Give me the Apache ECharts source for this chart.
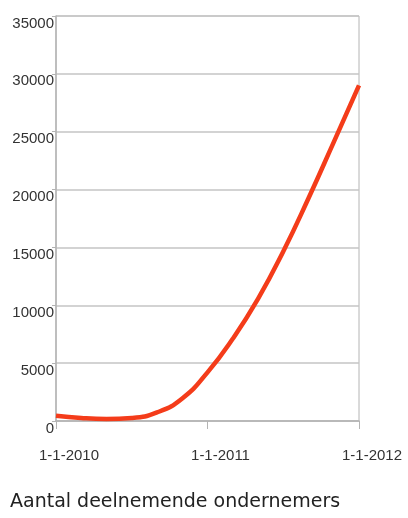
<!DOCTYPE html>
<html>
<head>
<meta charset="utf-8">
<script src="https://cdn.jsdelivr.net/npm/echarts@6/dist/echarts.min.js"></script>
<style>
  html, body { margin: 0; padding: 0; background: #ffffff; }
  #chart { width: 408px; height: 518px; }
</style>
</head>
<body>
<div id="chart"></div>
<script>
// Months since 1-1-2010 and the number of participating entrepreneurs at that time
const months = [0, 2, 4, 6, 8, 10, 12, 14, 16, 18, 20, 22, 24];
const participants = [450, 260, 180, 260, 740, 1950, 4200, 7100, 10550, 14650, 19250, 24100, 29000];
const yTicks = [0, 5000, 10000, 15000, 20000, 25000, 30000, 35000];
const startYear = 2010;
const caption = 'Aantal deelnemende ondernemers';

const chart = echarts.init(document.getElementById('chart'), null, { renderer: 'canvas' });

chart.setOption({
  backgroundColor: '#ffffff',
  animation: false,
  title: {
    text: caption,
    left: 5,
    top: 488,
    textStyle: { fontFamily: 'DejaVu Sans', fontSize: 19, fontWeight: 'normal', color: '#222' }
  },
  grid: { left: 56, right: 49, top: 16, bottom: 97, show: true, borderColor: '#b4b4b4', borderWidth: 1 },
  xAxis: {
    type: 'value',
    min: 0,
    max: 24,
    interval: 12,
    axisLine: { show: true, lineStyle: { color: '#b4b4b4', width: 1.5 } },
    axisTick: { show: true, length: 8, lineStyle: { color: '#b4b4b4' } },
    splitLine: { show: false },
    axisLabel: {
      margin: 27,
      padding: [0, 0, 0, 26],
      fontFamily: 'Liberation Sans',
      fontSize: 15,
      color: '#333',
      formatter: v => '1-1-' + (startYear + v / 12)
    }
  },
  yAxis: {
    type: 'value',
    min: yTicks[0],
    max: yTicks[yTicks.length - 1],
    interval: 5000,
    axisLine: { show: true, lineStyle: { color: '#b4b4b4', width: 1.5 } },
    axisTick: { show: true, length: 4, lineStyle: { color: '#b4b4b4' } },
    splitLine: { show: true, lineStyle: { color: '#c4c4c4', width: 1.5 } },
    axisLabel: {
      margin: 2,
      verticalAlign: 'top',
      fontFamily: 'Liberation Sans',
      fontSize: 15,
      color: '#333',
      formatter: v => String(v)
    }
  },
  series: [{
    type: 'line',
    data: months.map((m, i) => [m, participants[i]]),
    smooth: 0.5,
    showSymbol: false,
    lineStyle: { color: '#f43c1a', width: 4.5 }
  }]
});
</script>
</body>
</html>
